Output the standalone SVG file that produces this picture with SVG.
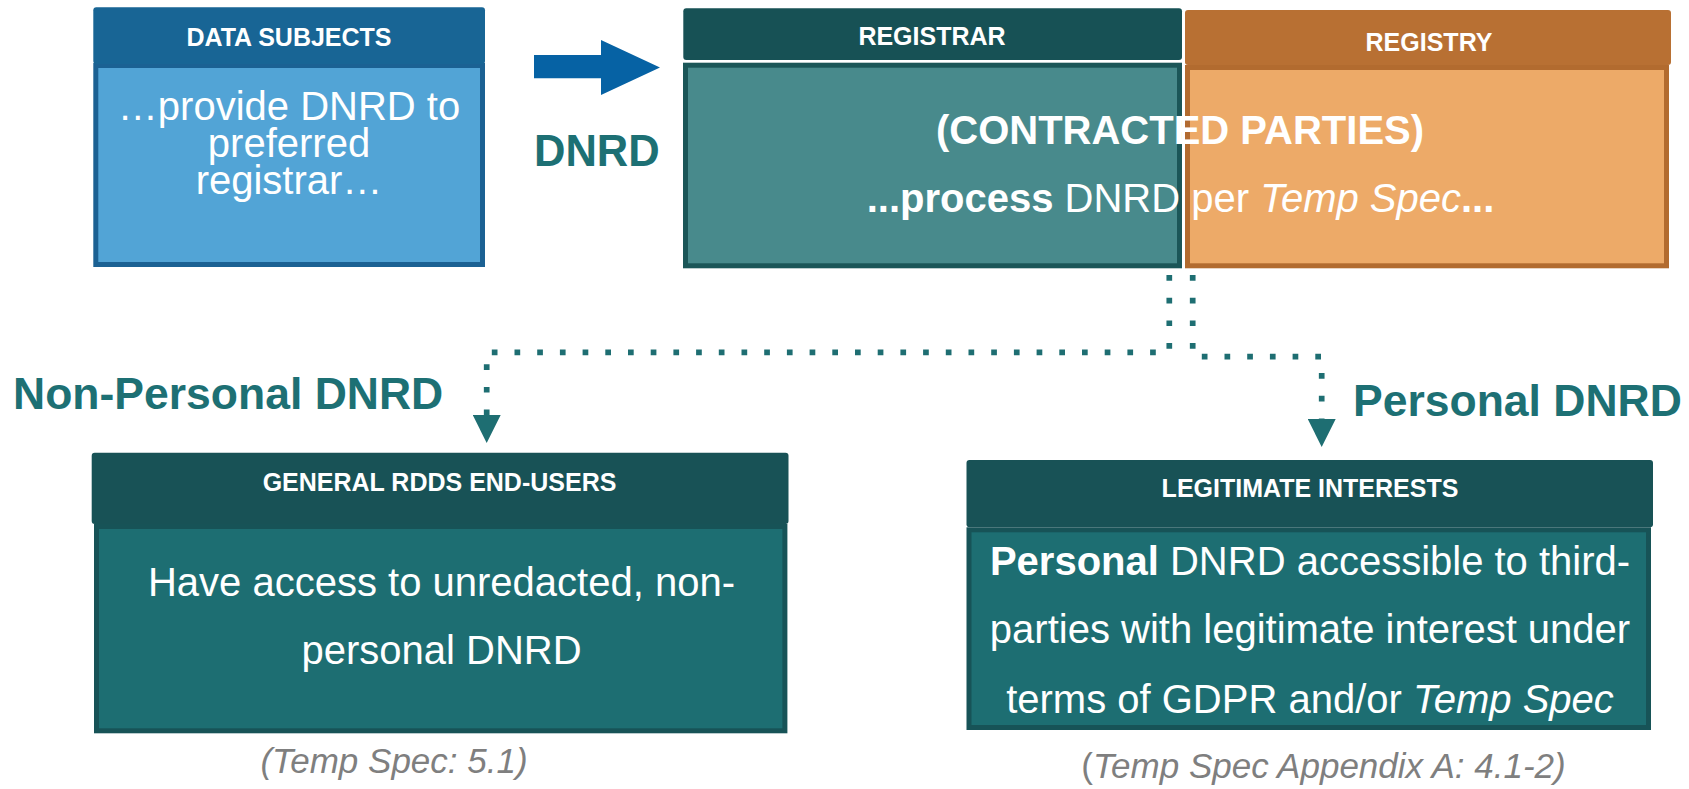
<svg xmlns="http://www.w3.org/2000/svg" width="1689" height="789" viewBox="0 0 1689 789">
  <defs>
    <style>
      text { font-family: "Liberation Sans", Arial, sans-serif; }
      .hdr { fill: #ffffff; font-size: 25px; font-weight: bold; text-anchor: middle; }
      .body { fill: #ffffff; font-size: 40px; text-anchor: middle; }
      .lbl { fill: #1D7074; font-size: 44.5px; font-weight: bold; }
      .note { fill: #7F7F7F; font-size: 35px; font-style: italic; text-anchor: middle; }
      .b { font-weight: bold; }
      .i { font-style: italic; }
      .n { font-style: normal; }
      .conn { fill: none; stroke: #1E6E72; stroke-width: 5.7; stroke-dasharray: 5.7 17; }
    </style>
    <marker id="ah" markerUnits="userSpaceOnUse" markerWidth="28" markerHeight="28" refX="0" refY="14" orient="auto" viewBox="0 0 28 28">
      <path d="M0,0 L28,14 L0,28 Z" fill="#1E6E72"/>
    </marker>
  </defs>
  <rect width="1689" height="789" fill="#ffffff"/>

  <g id="data-subjects">
    <rect x="95.8" y="65.5" width="386.7" height="199" fill="#52A4D6" stroke="#1B6193" stroke-width="5"/>
    <rect x="93.3" y="7.3" width="391.7" height="56.7" rx="3" fill="#186595"/>
    <text class="hdr" x="289" y="45.7">DATA SUBJECTS</text>
    <text class="body" x="289" y="120">…provide DNRD to</text>
    <text class="body" x="289" y="157.3">preferred</text>
    <text class="body" x="289" y="194.3">registrar…</text>
  </g>

  <g id="dnrd-arrow">
    <polygon points="534,55 601,55 601,40 660,67.5 601,95 601,78.3 534,78.3" fill="#0662A4"/>
    <text class="lbl" x="534" y="166" style="font-size:43.5px">DNRD</text>
  </g>

  <g id="registrar">
    <rect x="685.5" y="65.2" width="494" height="200.6" fill="#488A8C" stroke="#1B5658" stroke-width="5"/>
    <rect x="683.3" y="8.3" width="498.7" height="51.7" rx="3" fill="#175155"/>
    <text class="hdr" x="932" y="45">REGISTRAR</text>
  </g>

  <g id="registry">
    <rect x="1187.5" y="67.5" width="479" height="198.3" fill="#EDAA68" stroke="#B26B2F" stroke-width="5"/>
    <rect x="1185" y="10" width="486" height="55" rx="3" fill="#B87033"/>
    <text class="hdr" x="1429" y="50.7">REGISTRY</text>
  </g>

  <g id="contracted-parties">
    <text class="body b" x="1180" y="144">(CONTRACTED PARTIES)</text>
    <text class="body" x="1180.5" y="211.7"><tspan class="b">...process</tspan> DNRD per <tspan class="i">Temp Spec</tspan><tspan class="b">...</tspan></text>
  </g>

  <g id="connectors">
    <path class="conn" d="M1169.3,275 V352.3 H486.7 V415" marker-end="url(#ah)"/>
    <path class="conn" d="M1192.7,275 V356.7 H1321.7 V419" marker-end="url(#ah)"/>
    <text class="lbl" x="13" y="409">Non-Personal DNRD</text>
    <text class="lbl" x="1353" y="416">Personal DNRD</text>
  </g>

  <g id="general-rdds">
    <rect x="96.5" y="526.5" width="688.4" height="204.3" fill="#1D6E72" stroke="#175357" stroke-width="5"/>
    <rect x="91.7" y="452.7" width="696.8" height="71.3" rx="3" fill="#185256"/>
    <text class="hdr" x="439.5" y="491">GENERAL RDDS END-USERS</text>
    <text class="body" x="441.5" y="596">Have access to unredacted, non-</text>
    <text class="body" x="441.5" y="664">personal DNRD</text>
    <text class="note" x="394" y="773">(Temp Spec: 5.1)</text>
  </g>

  <g id="legitimate-interests">
    <rect x="969" y="529.8" width="679.5" height="197.7" fill="#1D6E72" stroke="#175357" stroke-width="5"/>
    <rect x="966.5" y="460" width="686.5" height="67.3" rx="3" fill="#185256"/>
    <text class="hdr" x="1310" y="497">LEGITIMATE INTERESTS</text>
    <text class="body" x="1310" y="575"><tspan class="b">Personal</tspan> DNRD accessible to third-</text>
    <text class="body" x="1310" y="643">parties with legitimate interest under</text>
    <text class="body" x="1310" y="713">terms of GDPR and/or <tspan class="i">Temp Spec</tspan></text>
    <text class="note" x="1323.5" y="778"><tspan class="n">(</tspan>Temp Spec Appendix A: 4.1-2)</text>
  </g>
</svg>
